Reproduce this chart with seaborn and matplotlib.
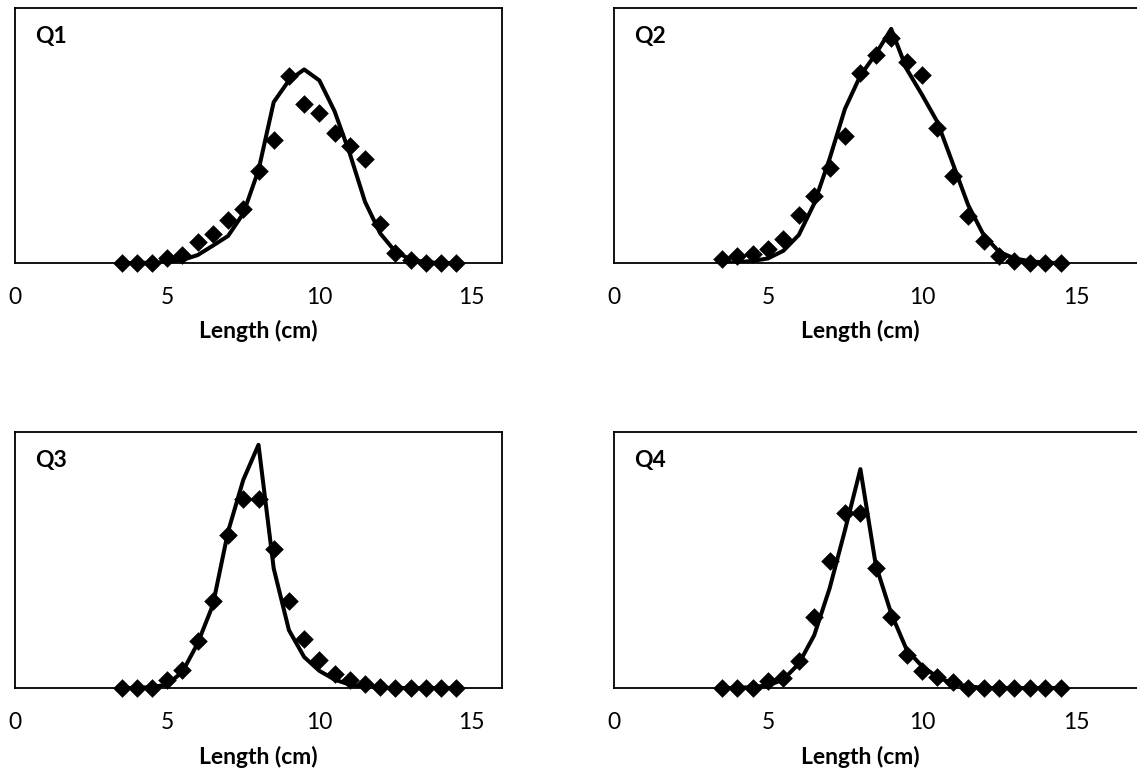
import matplotlib
matplotlib.use("Agg")
import matplotlib.pyplot as plt
import seaborn as sns
import pandas as pd

# Length classes (cm)
lengths = [3.5, 4.0, 4.5, 5.0, 5.5, 6.0, 6.5, 7.0, 7.5, 8.0, 8.5, 9.0, 9.5,
           10.0, 10.5, 11.0, 11.5, 12.0, 12.5, 13.0, 13.5, 14.0, 14.5]

# Observed (diamonds) and fitted (line) relative frequencies per quarter
q1_obs = [0, 0, 0, 0.018, 0.031, 0.081, 0.112, 0.168, 0.21, 0.36, 0.484, 0.734, 0.623,
          0.59, 0.511, 0.459, 0.409, 0.153, 0.038, 0.012, 0, 0, 0]
q1_fit = [0, 0, 0.001, 0.004, 0.012, 0.031, 0.068, 0.106, 0.194, 0.364, 0.631, 0.716, 0.759,
          0.716, 0.595, 0.429, 0.24, 0.116, 0.044, 0.014, 0.003, 0, 0]

q2_obs = [0.014, 0.027, 0.034, 0.053, 0.093, 0.19, 0.262, 0.373, 0.498, 0.746, 0.817, 0.881, 0.787,
          0.739, 0.529, 0.342, 0.184, 0.087, 0.027, 0.008, 0, 0, 0]
q2_fit = [0, 0.003, 0.008, 0.018, 0.048, 0.11, 0.233, 0.409, 0.605, 0.735, 0.82, 0.918, 0.761,
          0.66, 0.553, 0.39, 0.227, 0.11, 0.044, 0.018, 0.007, 0.001, 0]

q3_obs = [0, 0, 0, 0.03, 0.072, 0.183, 0.339, 0.598, 0.738, 0.738, 0.542, 0.339, 0.191,
          0.108, 0.056, 0.033, 0.017, 0.004, 0, 0, 0, 0, 0]
q3_fit = [0, 0, 0.004, 0.013, 0.063, 0.174, 0.324, 0.611, 0.813, 0.95, 0.467, 0.226, 0.121,
          0.067, 0.033, 0.013, 0.004, 0, 0, 0, 0, 0, 0]

q4_obs = [0, 0, 0, 0.026, 0.039, 0.106, 0.278, 0.496, 0.683, 0.683, 0.47, 0.278, 0.128,
          0.067, 0.043, 0.023, 0, 0, 0, 0, 0, 0, 0]
q4_fit = [0, 0, 0.004, 0.01, 0.033, 0.095, 0.206, 0.389, 0.617, 0.855, 0.48, 0.291, 0.15,
          0.085, 0.043, 0.017, 0.007, 0, 0, 0, 0, 0, 0]

panel_names = ["Q1", "Q2", "Q3", "Q4"]
x_ticks = [0, 5, 10, 15]
x_label = "Length (cm)"

sns.set_theme(style="white")
plt.rcParams['font.family'] = ['Lato', 'DejaVu Sans']

W, H = 1137, 781
fig = plt.figure(figsize=(W / 100, H / 100), dpi=100)

# axes rectangles in pixels: left, top, right, bottom
rects = [
    (15, 8, 502, 263, 16.0),
    (614, 8, 1153, 263, 17.5),
    (15, 432, 502, 688, 16.0),
    (614, 432, 1153, 688, 17.5),
]
obs_sets = [q1_obs, q2_obs, q3_obs, q4_obs]
fit_sets = [q1_fit, q2_fit, q3_fit, q4_fit]

for (l, t, r, b, xmax), name, obs, fit in zip(rects, panel_names, obs_sets, fit_sets):
    ax = fig.add_axes([l / W, 1 - b / H, (r - l) / W, (b - t) / H])
    df = pd.DataFrame({"length": lengths, "obs": obs, "fit": fit})
    sns.lineplot(data=df, x="length", y="fit", ax=ax, color="black", linewidth=2.9,
                 zorder=3)
    sns.scatterplot(data=df, x="length", y="obs", ax=ax, color="black", marker="D",
                    s=90, edgecolor="black", linewidth=0, zorder=4, clip_on=False)
    ax.set_xlim(0, xmax)
    ax.set_ylim(0, 1.0)
    ax.set_xticks(x_ticks)
    ax.set_xticklabels([str(v) for v in x_ticks])
    ax.set_yticks([])
    ax.set_ylabel("")
    ax.tick_params(axis="x", length=0, pad=17, labelsize=16.5, colors="black")
    ax.set_xlabel(x_label, fontsize=16.5, fontweight="bold", color="black")
    ax.xaxis.set_label_coords(8.0 / xmax, -0.225)
    for sp in ax.spines.values():
        sp.set_visible(True)
        sp.set_color("black")
        sp.set_linewidth(1.3)
    ax.text(20 / (r - l), 1 - 29 / (b - t), name, transform=ax.transAxes,
            fontsize=16.5, fontweight="bold", va="center", ha="left", color="black")

fig.savefig("out.png", dpi=100)
